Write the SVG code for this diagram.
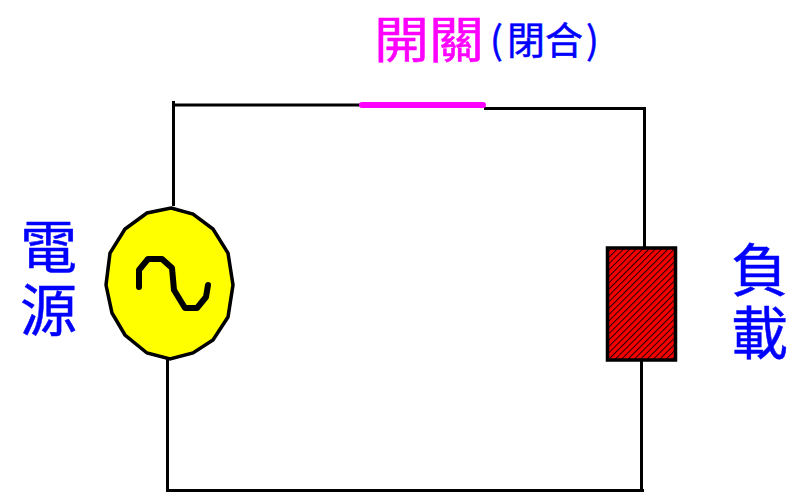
<svg xmlns="http://www.w3.org/2000/svg" width="799" height="497" viewBox="0 0 799 497">
<style>
.w{fill:none;stroke:#000;stroke-width:3}
text{font-family:"Noto Sans CJK TC","Noto Sans CJK SC",sans-serif;fill:#00f;stroke:#00f;stroke-width:.5}
.b{font-size:57px}
</style>
<defs>
<pattern id="h" width="4.500" height="4.500" patternUnits="userSpaceOnUse" patternTransform="rotate(-45)">
<rect width="4.500" height="4.500" fill="#f40000"/>
<rect width="4.500" height="1" fill="#200"/>
</pattern>
</defs>
<rect width="799" height="497" fill="#fff"/>
<g id="connectors">
<path class="w" d="M173.500 101V206"/>
<path class="w" d="M173 105H361"/>
<path class="w" d="M484 108.500H644.500V248"/>
<path class="w" d="M167.500 359V490.500H644"/>
<path class="w" d="M641.500 360V492"/>
</g>
<g id="switch">
<path d="M362 105H483" fill="none" stroke="#f0f" stroke-width="6" stroke-linecap="round"/>
<text x="374" y="58" font-size="50" style="fill:#f0f;stroke:#f0f" textLength="110" lengthAdjust="spacingAndGlyphs">開關</text>
<text y="54" font-size="38"><tspan x="490">(</tspan><tspan x="507">閉合</tspan><tspan x="586">)</tspan></text>
</g>
<g id="source">
<polygon points="171,208 193,214 213,229 228,253 233,285 228,317 213,340 193,353 170,359 147,353 125,335 112,313 106,285 110,253 125,229 147,213" fill="#ff0" stroke="#000" stroke-width="3.500"/>
<polyline points="139,287 139,270 148,259 162,259 172,268 174,290 185,308 197,308 206,297 208,285" fill="none" stroke="#000" stroke-width="6" stroke-linecap="round" stroke-linejoin="round"/>
<text class="b"><tspan x="20" y="268">電</tspan><tspan x="20" y="331">源</tspan></text>
</g>
<g id="load">
<rect x="607.500" y="248" width="68" height="112" fill="url(#h)" stroke="#000" stroke-width="3.500"/>
<text class="b"><tspan x="731" y="291">負</tspan><tspan x="731" y="354">載</tspan></text>
</g>
</svg>
